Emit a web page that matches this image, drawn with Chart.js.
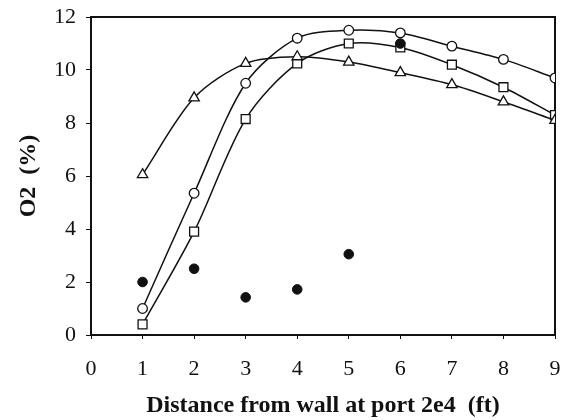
<!DOCTYPE html>
<html>
<head>
<meta charset="utf-8">
<script src="https://cdn.jsdelivr.net/npm/chart.js@4/dist/chart.umd.min.js"></script>
<style>
  html, body { margin: 0; padding: 0; background: #fff; }
  #wrap { width: 564px; height: 420px; }
</style>
</head>
<body>
<div id="wrap"><canvas id="o2-chart" width="564" height="420"></canvas></div>
<script>
// O2 profile vs. distance from wall, port 2e4

const distance = [1, 2, 3, 4, 5, 6, 7, 8, 9];
const o2Circle = [1.0, 5.35, 9.5, 11.2, 11.5, 11.4, 10.9, 10.4, 9.7];
const o2Square = [0.4, 3.9, 8.15, 10.25, 11.0, 10.85, 10.2, 9.35, 8.3];
const o2Triangle = [6.05, 8.95, 10.25, 10.5, 10.3, 9.9, 9.45, 8.8, 8.1];
const dotDistance = [1, 2, 3, 4, 5, 6];
const o2Dot = [2.0, 2.5, 1.42, 1.72, 3.05, 11.0];

const xTicks = [0, 1, 2, 3, 4, 5, 6, 7, 8, 9];
const yTicks = [0, 2, 4, 6, 8, 10, 12];

const INK = '#111';
const serif = '"Liberation Serif", "Times New Roman", serif';

function pts(xs, ys) {
  return xs.map((x, i) => ({ x: x, y: ys[i] }));
}

function lineSet(label, ys, shape, r) {
  return {
    label: label,
    data: pts(distance, ys),
    showLine: true,
    borderColor: INK,
    borderWidth: 1.5,
    tension: 0.3,
    pointStyle: shape,
    pointRadius: r,
    pointBackgroundColor: '#fff',
    pointBorderColor: INK,
    pointBorderWidth: 1.3
  };
}

// box around the plot area
const frame = {
  id: 'frame',
  beforeDatasetsDraw(chart) {
    const a = chart.chartArea, ctx = chart.ctx;
    ctx.save();
    ctx.strokeStyle = INK;
    ctx.lineWidth = 2;
    ctx.strokeRect(a.left, a.top, a.right - a.left, a.bottom - a.top);
    ctx.restore();
  }
};

new Chart(document.getElementById('o2-chart').getContext('2d'), {
  type: 'scatter',
  data: {
    datasets: [
      { label: 'dots', data: pts(dotDistance, o2Dot), pointStyle: 'circle', pointRadius: 4.8,
        pointBackgroundColor: INK, pointBorderColor: INK, showLine: false },
      lineSet('triangle', o2Triangle, 'triangle', 6),
      lineSet('square', o2Square, 'rect', 6.3),
      lineSet('circle', o2Circle, 'circle', 4.8)
    ]
  },
  options: {
    responsive: false,
    animation: false,
    layout: { padding: { top: 17, right: 9, left: 10, bottom: 0 } },
    plugins: { legend: { display: false }, tooltip: { enabled: false } },
    scales: {
      x: {
        type: 'linear', min: 0, max: 9,
        afterBuildTicks: s => { s.ticks = xTicks.map(v => ({ value: v })); },
        afterFit: s => { s.height = 85; s.paddingLeft = 0; s.paddingRight = 0; },
        border: { display: false },
        grid: { drawOnChartArea: false, tickLength: 4, color: INK },
        ticks: { color: INK, font: { family: serif, size: 22 }, padding: 17 },
        title: { display: true, text: 'Distance from wall at port 2e4  (ft)', color: INK,
          font: { family: serif, size: 24, weight: 'bold' }, padding: { top: 0, bottom: 0 } }
      },
      y: {
        min: 0, max: 12,
        afterBuildTicks: s => { s.ticks = yTicks.map(v => ({ value: v })); },
        afterFit: s => { s.width = 81; s.paddingTop = 0; s.paddingBottom = 0; },
        border: { display: false },
        grid: { drawOnChartArea: false, tickLength: 5, color: INK },
        ticks: { color: INK, font: { family: serif, size: 22 }, padding: 10 },
        title: { display: true, text: 'O2  (%)', color: INK,
          font: { family: serif, size: 24, weight: 'bold' }, padding: { bottom: 0 } }
      }
    }
  },
  plugins: [frame]
});
</script>
</body>
</html>
